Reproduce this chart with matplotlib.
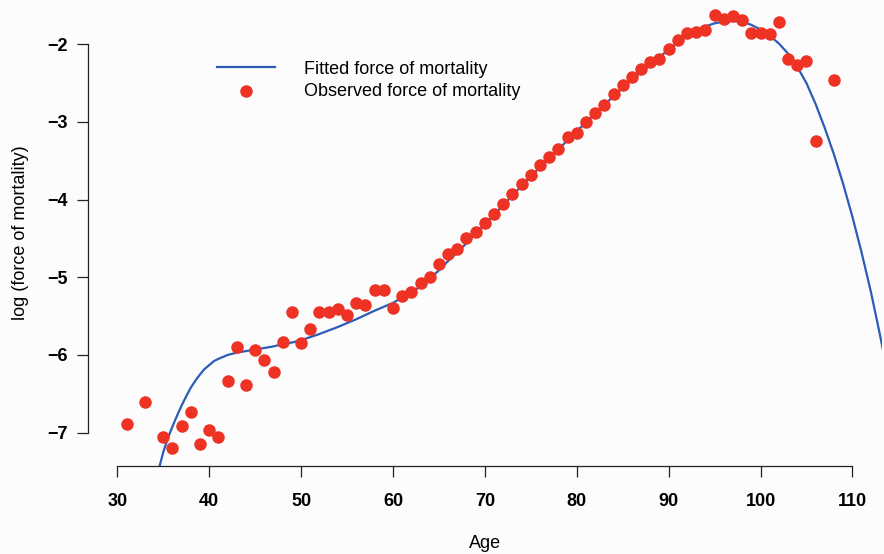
import numpy as np
import matplotlib
matplotlib.use("Agg")
import matplotlib.pyplot as plt

plt.rcParams['font.family'] = ['Liberation Sans', 'DejaVu Sans']

# observed log force of mortality by age
obs_age = [31, 33, 35, 36, 37, 38, 39, 40, 41, 42, 43, 44, 45, 46, 47, 48, 49,
           50, 51, 52, 53, 54, 55, 56, 57, 58, 59, 60, 61, 62, 63, 64, 65, 66,
           67, 68, 69, 70, 71, 72, 73, 74, 75, 76, 77, 78, 79, 80, 81, 82, 83,
           84, 85, 86, 87, 88, 89, 90, 91, 92, 93, 94, 95, 96, 97, 98, 99, 100,
           101, 102, 103, 104, 105, 106, 108]
obs_val = [-6.89, -6.61, -7.06, -7.20, -6.92, -6.74, -7.14, -6.96, -7.05, -6.33,
           -5.90, -6.39, -5.93, -6.07, -6.22, -5.83, -5.45,
           -5.84, -5.66, -5.45, -5.45, -5.41, -5.48, -5.33, -5.36, -5.17, -5.17,
           -5.39, -5.24, -5.19, -5.08, -5.00, -4.83, -4.70,
           -4.63, -4.50, -4.42, -4.30, -4.19, -4.06, -3.93, -3.80, -3.68, -3.56,
           -3.45, -3.35, -3.20, -3.14, -3.00, -2.88, -2.78,
           -2.64, -2.53, -2.42, -2.32, -2.23, -2.19, -2.06, -1.95, -1.86, -1.84,
           -1.82, -1.62, -1.68, -1.64, -1.69, -1.85, -1.86,
           -1.87, -1.71, -2.19, -2.27, -2.21, -3.24, -2.46]

# fitted curve
fit_age = [34.6, 35.0, 35.5, 36.0, 36.5, 37.0, 37.5, 38.0, 38.5, 39.0, 39.5,
           40.0, 40.5, 41.0, 42.0, 43.0, 44.0, 45.0, 46.0, 47.0, 48.0, 49.0,
           50.0, 52.0, 54.0, 56.0, 58.0, 60.0, 61.0, 62.0, 63.0, 64.0, 65.0,
           66.0, 67.0, 68.0, 69.0, 70.0, 72.0, 75.0, 80.0, 82.0, 85.0, 88.0,
           90.0, 91.0, 92.0, 93.0, 94.0, 95.0, 96.0, 97.0, 98.0, 99.0, 100.0,
           101.0, 102.0, 103.0, 104.0, 105.0, 106.0, 107.0, 108.0, 109.0,
           110.0, 111.0, 112.0, 113.0, 113.3]
fit_val = [-7.43, -7.25, -7.07, -6.92, -6.78, -6.65, -6.53, -6.42, -6.33,
           -6.25, -6.18, -6.13, -6.08, -6.05, -6.00, -5.97, -5.95, -5.93,
           -5.91, -5.89, -5.86, -5.84, -5.81, -5.73, -5.64, -5.54, -5.43,
           -5.33, -5.26, -5.19, -5.12, -5.02, -4.91, -4.79, -4.68, -4.56,
           -4.44, -4.32, -4.07, -3.70, -3.12, -2.89, -2.56, -2.26, -2.07,
           -1.98, -1.90, -1.83, -1.77, -1.73, -1.71, -1.70, -1.71, -1.75,
           -1.81, -1.89, -1.99, -2.12, -2.29, -2.50, -2.77, -3.08, -3.42,
           -3.80, -4.22, -4.68, -5.18, -5.74, -5.92]

fig = plt.figure(figsize=(8.84, 5.54), dpi=100)
fig.patch.set_facecolor('#fcfcfd')
ax = fig.add_axes([0.0995, 0.1588, 0.898, 0.8412])
ax.set_facecolor('#fcfcfd')

ax.plot(fit_age, fit_val, color='#2a5cb8', lw=1.6, label='Fitted force of mortality')
ax.scatter(obs_age, obs_val, s=64, color='#ee3224', zorder=3,
           label='Observed force of mortality')

ax.set_xlim(26.8, 113.2)
ax.set_ylim(-7.43, -1.43)

ax.spines['top'].set_visible(False)
ax.spines['right'].set_visible(False)
ax.spines['left'].set_bounds(-7, -2)
ax.spines['bottom'].set_bounds(30, 110)
for s in ['left', 'bottom']:
    ax.spines[s].set_color('#222222')
    ax.spines[s].set_linewidth(0.9)

ax.set_xticks(range(30, 111, 10))
ax.set_yticks(range(-7, -1))
ax.set_yticklabels(['\u22127', '\u22126', '\u22125', '\u22124', '\u22123', '\u22122'])
ax.tick_params(length=7.7, width=0.9, color='#222222', labelsize=13, pad=7)
ax.tick_params(axis='x', pad=11.5)
for lab in ax.get_xticklabels() + ax.get_yticklabels():
    lab.set_fontweight('bold')

ax.set_xlabel('Age', fontsize=13, labelpad=18)
ax.set_ylabel('log (force of mortality)', fontsize=13, labelpad=13)

ax.legend(loc='upper left', bbox_to_anchor=(0.142, 0.905), frameon=False,
          fontsize=13, handlelength=3.2, handletextpad=1.6, labelspacing=0.3)

plt.savefig('out.png', dpi=100, facecolor=fig.get_facecolor())
